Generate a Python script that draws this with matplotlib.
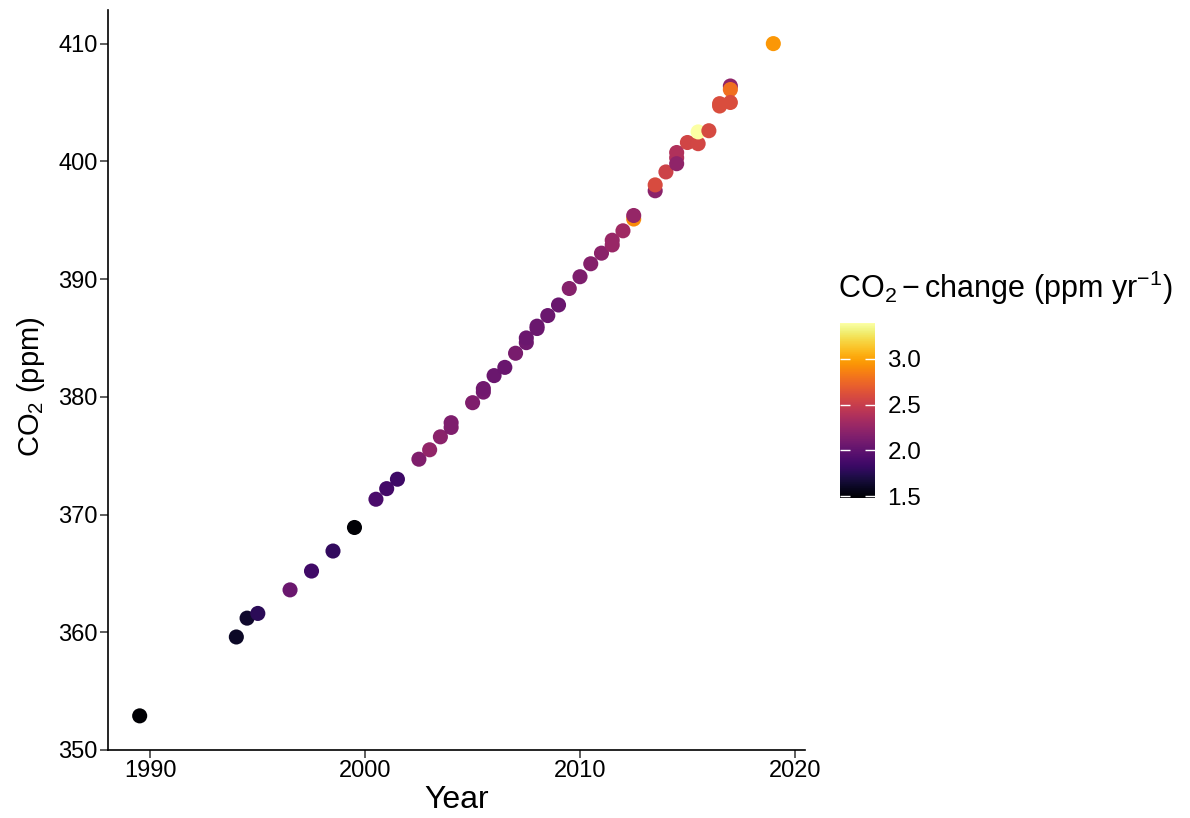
import numpy as np
import matplotlib
matplotlib.use("Agg")
import matplotlib.pyplot as plt
from matplotlib.colors import Normalize

# Annual-ish CO2 observations: time, concentration, growth rate
year = [1989.5, 1994.0, 1994.5, 1995.0, 1996.5, 1997.5, 1998.5, 1999.5,
        2000.5, 2001.0, 2001.5, 2002.5, 2003.0, 2003.5, 2004.0, 2004.0,
        2005.0, 2005.5, 2005.5, 2006.0, 2006.5, 2007.0, 2007.5, 2007.5,
        2008.0, 2008.0, 2008.5, 2009.0, 2009.5, 2010.0, 2010.5, 2011.0,
        2011.5, 2011.5, 2012.0, 2012.5, 2012.5, 2013.5, 2013.5, 2014.0,
        2014.5, 2014.5, 2014.5, 2015.0, 2015.5, 2015.5, 2016.0, 2016.5,
        2016.5, 2017.0, 2017.0, 2017.0, 2019.0]
co2 = [352.9, 359.6, 361.2, 361.6, 363.6, 365.2, 366.9, 368.9,
       371.3, 372.2, 373.0, 374.7, 375.5, 376.6, 377.4, 377.8,
       379.5, 380.4, 380.7, 381.8, 382.5, 383.7, 384.6, 385.0,
       385.8, 386.0, 386.9, 387.8, 389.2, 390.2, 391.3, 392.2,
       392.9, 393.3, 394.1, 395.1, 395.4, 397.5, 398.0, 399.1,
       400.75, 400.3, 399.8, 401.6, 401.5, 402.5, 402.6, 404.9,
       404.7, 406.4, 406.1, 405.0, 410.0]
growth = [1.48, 1.61, 1.63, 1.77, 2.05, 1.86, 1.80, 1.50,
          1.90, 1.87, 1.85, 2.15, 2.24, 2.20, 2.15, 2.14,
          2.15, 2.10, 2.08, 2.05, 2.04, 2.12, 2.07, 2.05,
          2.05, 2.05, 2.05, 2.04, 2.18, 2.14, 2.17, 2.20,
          2.27, 2.27, 2.30, 2.91, 2.25, 2.20, 2.59, 2.53,
          2.38, 2.38, 2.22, 2.55, 2.56, 3.39, 2.58, 2.60,
          2.60, 2.22, 2.78, 2.60, 2.95]

x_ticks = [1990, 2000, 2010, 2020]
y_ticks = [350, 360, 370, 380, 390, 400, 410]
cbar_ticks = [1.5, 2.0, 2.5, 3.0]

plt.rcParams['font.family'] = ['Liberation Sans', 'DejaVu Sans']
plt.rcParams['mathtext.fontset'] = 'custom'
plt.rcParams['mathtext.rm'] = 'Liberation Sans'
plt.rcParams['mathtext.it'] = 'Liberation Sans'
plt.rcParams['mathtext.default'] = 'regular'

W, H = 1190, 818
fig = plt.figure(figsize=(W / 100, H / 100), dpi=100)


def px_axes(l, t, r, b):
    return fig.add_axes([l / W, 1 - b / H, (r - l) / W, (b - t) / H])


ax = px_axes(108, 10, 805, 750)

norm = Normalize(vmin=min(growth), vmax=max(growth))
sc = ax.scatter(year, co2, c=growth, cmap='inferno', norm=norm,
                s=118, linewidths=0, zorder=3)


def expand(vals, f=0.05):
    lo, hi = min(vals), max(vals)
    d = (hi - lo) * f
    return lo - d, hi + d


ax.set_xlim(*expand(year))
ax.set_ylim(*expand(co2))
ax.set_xticks(x_ticks)
ax.set_yticks(y_ticks)

for s in ['top', 'right']:
    ax.spines[s].set_visible(False)
for s in ['left', 'bottom']:
    ax.spines[s].set_linewidth(1.2)
    ax.spines[s].set_color('black')
ax.tick_params(axis='both', direction='out', length=5.5, width=1.1,
               color='#333333', labelsize=17, labelcolor='black', pad=2)

ax.set_xlabel('Year', fontsize=23, labelpad=2)
fig.text(31 / W, 1 - 387 / H, r'CO$_2$ (ppm)', fontsize=21,
         rotation=90, ha='center', va='center')

# Colour bar legend
cax = px_axes(840, 323, 875, 498)
cb = fig.colorbar(sc, cax=cax, ticks=cbar_ticks)
cb.outline.set_visible(False)
cb.ax.set_yticklabels(['%.1f' % t for t in cbar_ticks])
cb.ax.tick_params(direction='in', length=7, width=1, color='white',
                  left=True, right=True, labelsize=17.5, pad=9)
fig.text(838 / W, 1 - 298 / H, r'CO$_2-$change (ppm yr$^{-1}$)',
         fontsize=22, ha='left', va='baseline')

fig.savefig('out.png', dpi=100, facecolor='white')
